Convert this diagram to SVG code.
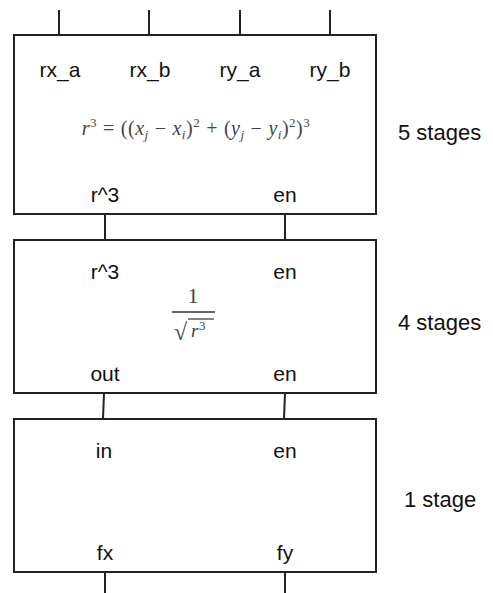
<svg xmlns="http://www.w3.org/2000/svg" width="493" height="593" viewBox="0 0 493 593">
<style>
.box{fill:#fff;stroke:#222;stroke-width:2}
.wire{stroke:#222;stroke-width:2;fill:none}
.lbl{font-family:"Liberation Sans",Arial,sans-serif;font-size:21px;fill:#111;text-anchor:middle}
.stg{font-family:"Liberation Sans",Arial,sans-serif;font-size:22px;fill:#111}
.math{font-family:"Liberation Serif","Times New Roman",serif;fill:#444}
.sm{font-size:13px}
.it{font-style:italic}
</style>
<rect width="493" height="593" fill="#fff"/>
<g id="connectors">
<line class="wire" x1="59" y1="10" x2="59" y2="35"/>
<line class="wire" x1="149" y1="10" x2="149" y2="35"/>
<line class="wire" x1="240" y1="10" x2="240" y2="35"/>
<line class="wire" x1="330" y1="10" x2="330" y2="35"/>
<line class="wire" x1="105" y1="214" x2="105" y2="240"/>
<line class="wire" x1="285" y1="214" x2="285" y2="240"/>
<line class="wire" x1="104" y1="393" x2="103" y2="419"/>
<line class="wire" x1="285" y1="393" x2="284" y2="419"/>
<line class="wire" x1="105" y1="572" x2="105" y2="593"/>
<line class="wire" x1="285" y1="572" x2="285" y2="593"/>
</g>
<g id="stage1">
<rect class="box" x="14" y="35" width="362" height="179"/>
<text class="lbl" x="60" y="77">rx_a</text>
<text class="lbl" x="150" y="77">rx_b</text>
<text class="lbl" x="240" y="77">ry_a</text>
<text class="lbl" x="330" y="77">ry_b</text>
<text class="math" x="196" y="135" text-anchor="middle" style="font-size:20px;letter-spacing:0.5px;word-spacing:0.5px"><tspan class="it">r</tspan><tspan class="sm" dy="-8">3</tspan><tspan dy="8"> = ((</tspan><tspan class="it">x</tspan><tspan class="it sm" dy="4">j</tspan><tspan dy="-4"> − </tspan><tspan class="it">x</tspan><tspan class="it sm" dy="4">i</tspan><tspan dy="-4">)</tspan><tspan class="sm" dy="-8">2</tspan><tspan dy="8"> + (</tspan><tspan class="it">y</tspan><tspan class="it sm" dy="4">j</tspan><tspan dy="-4"> − </tspan><tspan class="it">y</tspan><tspan class="it sm" dy="4">i</tspan><tspan dy="-4">)</tspan><tspan class="sm" dy="-8">2</tspan><tspan dy="8">)</tspan><tspan class="sm" dy="-8">3</tspan></text>
<text class="lbl" x="105" y="202">r^3</text>
<text class="lbl" x="285" y="202">en</text>
</g>
<text class="stg" x="398" y="140">5 stages</text>
<g id="stage2">
<rect class="box" x="14" y="240" width="362" height="153"/>
<text class="lbl" x="105" y="279">r^3</text>
<text class="lbl" x="285" y="279">en</text>
<text class="math" x="193" y="303" text-anchor="middle" style="font-size:22px">1</text>
<line x1="172" y1="312" x2="215" y2="312" stroke="#333" stroke-width="1.3"/>
<text class="math" x="174" y="340" style="font-size:24px">√</text>
<line x1="188" y1="319" x2="214" y2="319" stroke="#333" stroke-width="1.2"/>
<text class="math it" x="191" y="337" style="font-size:19px">r</text>
<text class="math" x="199" y="330" style="font-size:13px">3</text>
<text class="lbl" x="105" y="381">out</text>
<text class="lbl" x="285" y="381">en</text>
</g>
<text class="stg" x="398" y="330">4 stages</text>
<g id="stage3">
<rect class="box" x="14" y="419" width="362" height="153"/>
<text class="lbl" x="104" y="458">in</text>
<text class="lbl" x="285" y="458">en</text>
<text class="lbl" x="105" y="560">fx</text>
<text class="lbl" x="285" y="560">fy</text>
</g>
<text class="stg" x="404" y="507">1 stage</text>
</svg>
